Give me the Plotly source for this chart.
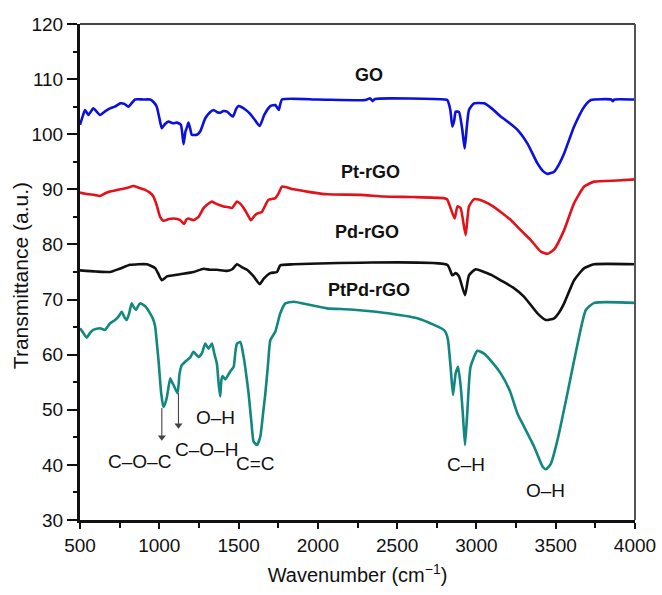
import plotly.graph_objects as go

# FTIR spectra: wavenumber (cm^-1) and transmittance (a.u.) for each sample
go_wn = [500, 520, 532, 553, 584, 626, 660, 690, 720, 753, 780, 805, 847, 900, 942, 965, 984, 1000,
         1016, 1035, 1058, 1085, 1111, 1136, 1153, 1165, 1175, 1184, 1195, 1205, 1237, 1258, 1290,
         1320, 1342, 1365, 1384, 1405, 1427, 1450, 1465, 1485, 1500, 1520, 1542, 1570, 1595, 1633,
         1662, 1700, 1732, 1753, 1774, 2000, 2300, 2330, 2345, 2360, 2800, 2816, 2835, 2848, 2860,
         2869, 2890, 2910, 2926, 2940, 2953, 2985, 3048, 3100, 3153, 3210, 3259, 3322, 3385, 3420,
         3448, 3490, 3520, 3553, 3616, 3680, 3722, 3850, 3860, 3870, 4000]
go_t = [101.7, 103.5, 104.4, 103.5, 104.7, 103.5, 104.2, 104.7, 105.0, 105.6, 105.5, 105.0, 106.3,
        106.3, 106.3, 105.8, 105.0, 103.0, 101.1, 101.8, 102.3, 102.0, 102.1, 101.7, 98.2, 100.5,
        101.3, 102.1, 101.0, 99.9, 99.9, 100.5, 102.9, 104.0, 104.4, 104.0, 103.9, 104.2, 104.1,
        103.5, 103.2, 104.6, 105.1, 104.9, 104.5, 103.8, 102.9, 101.5, 103.5, 105.1, 105.3, 104.4,
        106.3, 106.3, 106.2, 106.5, 106.0, 106.4, 106.3, 106.2, 104.5, 101.4, 102.5, 104.1, 104.0,
        101.0, 97.4, 101.5, 104.4, 105.6, 105.6, 104.6, 103.2, 102.0, 100.8, 98.3, 94.7, 93.3, 92.8,
        93.2, 94.5, 96.5, 101.4, 105.0, 106.2, 106.3, 106.0, 106.3, 106.3]

pt_wn = [500, 553, 590, 626, 660, 690, 753, 800, 837, 870, 911, 940, 963, 985, 1005, 1026, 1060,
         1090, 1132, 1157, 1170, 1184, 1216, 1247, 1279, 1305, 1332, 1350, 1374, 1405, 1430, 1458,
         1490, 1510, 1532, 1555, 1578, 1600, 1616, 1647, 1670, 1689, 1732, 1753, 1774, 1848, 1950,
         2058, 2269, 2415, 2600, 2794, 2815, 2837, 2863, 2880, 2900, 2932, 2953, 2985, 3048, 3100,
         3153, 3210, 3259, 3300, 3343, 3406, 3448, 3490, 3553, 3616, 3680, 3743, 3890, 4000]
pt_t = [89.4, 89.1, 89.0, 88.8, 89.3, 89.6, 90.0, 90.3, 90.6, 90.3, 89.9, 89.4, 88.7, 87.0, 85.0,
        84.3, 84.6, 84.7, 84.4, 83.7, 84.5, 84.7, 84.4, 85.0, 86.6, 87.3, 87.8, 87.5, 87.2, 86.9,
        86.8, 86.6, 87.8, 87.4, 86.6, 85.5, 84.4, 85.2, 85.6, 85.9, 87.2, 88.1, 88.4, 89.3, 90.5,
        90.0, 89.5, 89.1, 89.0, 88.7, 88.6, 88.4, 88.2, 86.6, 84.7, 86.9, 86.6, 81.7, 86.9, 88.2,
        87.8, 87.0, 85.9, 84.6, 83.2, 82.0, 80.8, 78.7, 78.3, 79.1, 82.6, 87.5, 90.5, 91.4, 91.6,
        91.8]

pd_wn = [500, 600, 690, 750, 816, 921, 974, 995, 1016, 1048, 1090, 1132, 1216, 1279, 1320, 1363,
         1427, 1460, 1490, 1520, 1553, 1595, 1633, 1659, 1700, 1742, 1763, 1848, 2816, 2848, 2869,
         2890, 2928, 2953, 2995, 3048, 3100, 3153, 3230, 3301, 3385, 3438, 3490, 3520, 3553, 3616,
         3680, 3743, 4000]
pd_t = [75.3, 75.1, 75.0, 75.6, 76.3, 76.4, 75.7, 74.6, 73.5, 74.2, 74.4, 74.6, 75.0, 75.6, 75.4,
        75.4, 75.2, 75.5, 76.4, 75.9, 75.4, 74.2, 72.8, 73.8, 74.8, 75.0, 76.2, 76.4, 76.3, 74.4,
        74.8, 74.2, 70.8, 74.4, 75.5, 75.0, 74.4, 73.5, 72.2, 70.5, 67.5, 66.3, 66.6, 67.6, 69.3,
        73.5, 75.7, 76.4, 76.4]

ptpd_wn = [500, 520, 542, 565, 584, 626, 658, 690, 721, 745, 763, 780, 795, 810, 826, 840, 853, 866,
           879, 911, 942, 960, 974, 985, 995, 1012, 1026, 1038, 1048, 1069, 1080, 1090, 1115, 1128,
           1142, 1174, 1195, 1216, 1247, 1268, 1290, 1311, 1332, 1347, 1363, 1375, 1384, 1392, 1399,
           1416, 1448, 1469, 1480, 1490, 1511, 1532, 1550, 1563, 1580, 1595, 1616, 1637, 1655, 1669,
           1685, 1700, 1732, 1763, 1795, 1848, 1953, 2058, 2206, 2415, 2627, 2732, 2794, 2810, 2821,
           2837, 2852, 2862, 2869, 2884, 2900, 2915, 2928, 2942, 2963, 3006, 3048, 3100, 3153, 3210,
           3259, 3301, 3364, 3417, 3438, 3469, 3511, 3574, 3638, 3690, 3743, 4000]
ptpd_t = [64.8, 64.0, 63.1, 64.0, 64.5, 64.8, 64.5, 65.7, 66.3, 67.0, 67.8, 66.8, 66.3, 67.5, 69.3,
          68.6, 68.1, 68.8, 69.3, 68.8, 67.5, 66.5, 65.1, 62.0, 59.0, 53.0, 50.5, 51.2, 52.3, 55.7,
          55.0, 54.5, 53.0, 56.6, 58.1, 59.0, 59.5, 60.5, 59.6, 60.2, 62.0, 61.1, 62.0, 60.2, 58.4,
          54.5, 52.4, 55.5, 56.1, 55.5, 57.0, 57.8, 60.5, 62.0, 62.3, 59.6, 56.0, 53.0, 48.0, 44.2,
          43.6, 45.1, 49.5, 53.0, 58.0, 62.6, 64.2, 67.5, 69.3, 69.6, 69.0, 68.4, 68.2, 67.6, 66.6,
          65.4, 64.5, 63.8, 62.6, 57.8, 52.7, 55.0, 56.6, 57.8, 54.5, 49.0, 43.6, 49.3, 57.8, 60.7,
          60.2, 58.6, 56.6, 53.5, 49.3, 46.9, 43.3, 39.7, 39.2, 40.2, 44.5, 53.0, 62.0, 68.1, 69.4,
          69.4]

# Sample labels (bold) and band assignments
sample_names = ["GO", "Pt-rGO", "Pd-rGO", "PtPd-rGO"]
sample_label_pos = [(2320, 110.7), (2330, 93.1), (2310, 82.3), (2320, 71.7)]
band_labels = ["C\u2013O\u2013C", "C\u2013O\u2013H", "O\u2013H", "C=C", "C\u2013H", "O\u2013H"]
band_label_pos = [(875, 40.6), (1300, 42.8), (1353, 48.6), (1605, 40.3), (2936, 40.1), (3435, 35.3)]
# arrows: wavenumber, tail and head transmittance
arrow_wn = [1016, 1121]
arrow_tail = [50.3, 53.0]
arrow_head = [45.0, 47.2]

x_ticks = [500, 1000, 1500, 2000, 2500, 3000, 3500, 4000]
y_ticks = [30, 40, 50, 60, 70, 80, 90, 100, 110, 120]
x_title = "Wavenumber (cm<sup>\u22121</sup>)"
y_title = "Transmittance (a.u.)"

series = [
    (go_wn, go_t, "#0b10dc"),
    (pt_wn, pt_t, "#e3121a"),
    (pd_wn, pd_t, "#111111"),
    (ptpd_wn, ptpd_t, "#12877f"),
]

fig = go.Figure()
for (wn, t, color), name in zip(series, sample_names):
    fig.add_trace(go.Scatter(x=wn, y=t, mode="lines", name=name,
                             line=dict(color=color, width=2.6, shape="spline", smoothing=0.5),
                             showlegend=False))

# arrow heads pointing down to the labelled bands
fig.add_trace(go.Scatter(x=arrow_wn, y=arrow_head, mode="markers", showlegend=False,
                         marker=dict(symbol="triangle-down", size=7, color="#444444")))

font_family = "Liberation Sans, Arial, sans-serif"
annotations = []
for name, (x, y) in zip(sample_names, sample_label_pos):
    annotations.append(dict(x=x, y=y, text="<b>" + name + "</b>", showarrow=False,
                            font=dict(size=18, color="#111111", family=font_family)))
for lab, (x, y) in zip(band_labels, band_label_pos):
    annotations.append(dict(x=x, y=y, text=lab, showarrow=False,
                            font=dict(size=19, color="#111111", family=font_family)))
# vertical axis title placed in the left margin
annotations.append(dict(x=-0.106, y=0.492, xref="paper", yref="paper", text=y_title,
                        textangle=-90, showarrow=False, xanchor="center", yanchor="middle",
                        font=dict(size=21, color="#111111", family=font_family)))

shapes = [
    dict(type="line", xref="paper", yref="paper", x0=0, x1=1, y0=1, y1=1,
         line=dict(color="#444444", width=2)),
    dict(type="line", xref="paper", yref="paper", x0=1, x1=1, y0=0, y1=1,
         line=dict(color="#555555", width=2)),
]
for x, y0, y1 in zip(arrow_wn, arrow_tail, arrow_head):
    shapes.append(dict(type="line", xref="x", yref="y", x0=x, x1=x, y0=y0, y1=y1,
                       line=dict(color="#444444", width=1.1)))

fig.update_layout(
    width=662, height=595,
    margin=dict(l=80, r=27, t=24, b=75),
    paper_bgcolor="white", plot_bgcolor="white",
    font=dict(family=font_family, size=19, color="#111111"),
    annotations=annotations,
    shapes=shapes,
)
fig.update_xaxes(
    range=[500, 4000], tickvals=x_ticks, ticks="outside", ticklen=6, tickwidth=2,
    tickcolor="#111111", showline=True, linecolor="#111111", linewidth=3,
    showgrid=False, zeroline=False, tickfont=dict(size=19), automargin=False,
    minor=dict(dtick=250, tick0=500, ticks="outside", ticklen=5, tickwidth=2, tickcolor="#111111"),
    title=dict(text=x_title, font=dict(size=20), standoff=14),
)
fig.update_yaxes(
    range=[30, 120], tickvals=y_ticks, ticks="outside", ticklen=10, tickwidth=2,
    tickcolor="#111111", showline=True, linecolor="#111111", linewidth=3,
    showgrid=False, zeroline=False, automargin=False, tickfont=dict(size=19),
    minor=dict(dtick=5, tick0=30, ticks="outside", ticklen=4, tickwidth=2, tickcolor="#111111"),
)

fig.write_html("out.html")
